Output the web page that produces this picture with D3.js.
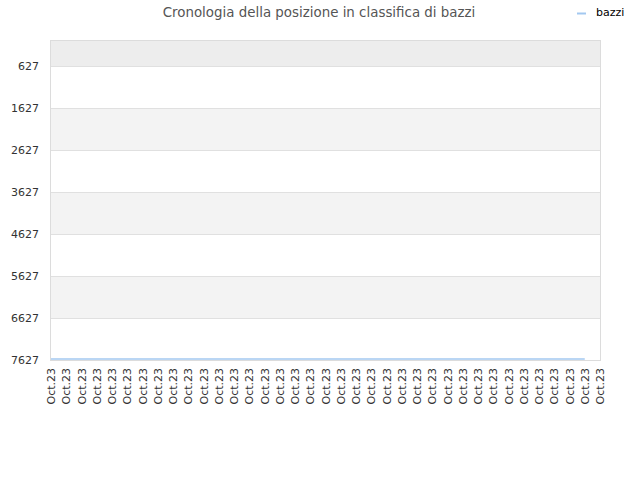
<!DOCTYPE html>
<html lang="it">
	<head>
		<meta charset="utf-8">
		<title>Cronologia della posizione in classifica di bazzi</title>
		<script type="text/javascript" src="https://cdn.jsdelivr.net/npm/d3@7"></script>
		<style type="text/css">
			body { margin: 0; background: #fff; }
			text { font-family: "DejaVu Sans", sans-serif; }
		</style>
	</head>
	<body>
		<script type="text/javascript">

			// Data
			var seriesName = "bazzi";
			var xLabels = ["Oct.23","Oct.23","Oct.23","Oct.23","Oct.23","Oct.23","Oct.23","Oct.23","Oct.23","Oct.23",
			               "Oct.23","Oct.23","Oct.23","Oct.23","Oct.23","Oct.23","Oct.23","Oct.23","Oct.23","Oct.23",
			               "Oct.23","Oct.23","Oct.23","Oct.23","Oct.23","Oct.23","Oct.23","Oct.23","Oct.23","Oct.23",
			               "Oct.23","Oct.23","Oct.23","Oct.23","Oct.23","Oct.23","Oct.23"];
			var positions = [7627, 7627, 7627, 7627, 7627, 7627, 7627, 7627, 7627, 7627,
			                 7627, 7627, 7627, 7627, 7627, 7627, 7627, 7627, 7627, 7627,
			                 7627, 7627, 7627, 7627, 7627, 7627, 7627, 7627, 7627, 7627,
			                 7627, 7627, 7627, 7627, 7627, 7627];
			var yTicks = [627, 1627, 2627, 3627, 4627, 5627, 6627, 7627];

			//Width and height
			var w = 640;
			var h = 480;
			var plotLeft = 51, plotRight = 600, plotTop = 40, plotBottom = 360;

			var svg = d3.select("body")
						.append("svg")
						.attr("width", w)
						.attr("height", h);

			var xScale = d3.scalePoint()
							.domain(d3.range(xLabels.length))
							.range([plotLeft, plotRight]);

			var yScale = d3.scaleLinear()
							.domain([1, 7627])
							.range([plotTop, plotBottom]);

			//Bands between ticks
			var bandEdges = [1].concat(yTicks);
			svg.selectAll("rect.band")
			   .data(d3.range(bandEdges.length - 1))
			   .enter()
			   .append("rect")
			   .attr("class", "band")
			   .attr("x", plotLeft)
			   .attr("width", plotRight - plotLeft)
			   .attr("y", function(i) { return yScale(bandEdges[i]); })
			   .attr("height", function(i) { return yScale(bandEdges[i + 1]) - yScale(bandEdges[i]); })
			   .attr("fill", function(i) {
			   		if (i == 0) return "#ededed";
			   		return i % 2 == 0 ? "#f3f3f3" : "#ffffff";
			   });

			//Grid lines
			svg.selectAll("line.grid")
			   .data(yTicks)
			   .enter()
			   .append("line")
			   .attr("class", "grid")
			   .attr("x1", plotLeft)
			   .attr("x2", plotRight)
			   .attr("y1", function(d) { return Math.round(yScale(d)) + 0.5; })
			   .attr("y2", function(d) { return Math.round(yScale(d)) + 0.5; })
			   .attr("stroke", "#e0e0e0");

			//Border
			svg.append("rect")
			   .attr("x", plotLeft - 0.5)
			   .attr("y", plotTop + 0.5)
			   .attr("width", plotRight - plotLeft + 1)
			   .attr("height", plotBottom - plotTop)
			   .attr("fill", "none")
			   .attr("stroke", "#dcdcdc");

			//Y labels
			svg.selectAll("text.ylab")
			   .data(yTicks)
			   .enter()
			   .append("text")
			   .attr("class", "ylab")
			   .text(function(d) { return d; })
			   .attr("text-anchor", "end")
			   .attr("x", 39)
			   .attr("y", function(d) { return yScale(d) + 4; })
			   .attr("font-size", "11px")
			   .attr("fill", "#333");

			//X labels
			svg.selectAll("text.xlab")
			   .data(xLabels)
			   .enter()
			   .append("text")
			   .attr("class", "xlab")
			   .text(function(d) { return d; })
			   .attr("text-anchor", "end")
			   .attr("transform", function(d, i) {
			   		return "translate(" + (xScale(i) + 4) + "," + (plotBottom + 8) + ") rotate(-90)";
			   })
			   .attr("font-size", "11px")
			   .attr("fill", "#333");

			//Line
			var line = d3.line()
						 .x(function(d, i) { return xScale(i); })
						 .y(function(d) { return yScale(d) - 1; });

			svg.append("path")
			   .datum(positions)
			   .attr("d", line)
			   .attr("fill", "none")
			   .attr("stroke", "#a3c8f0")
			   .attr("stroke-width", 1.5);

			//Title
			svg.append("text")
			   .text("Cronologia della posizione in classifica di bazzi")
			   .attr("text-anchor", "middle")
			   .attr("x", 319)
			   .attr("y", 17)
			   .attr("font-size", "13.4px")
			   .attr("fill", "#555");

			//Legend
			svg.append("line")
			   .attr("x1", 577)
			   .attr("x2", 586)
			   .attr("y1", 13.5)
			   .attr("y2", 13.5)
			   .attr("stroke", "#a3c8f0")
			   .attr("stroke-width", 2);

			svg.append("text")
			   .text(seriesName)
			   .attr("x", 596)
			   .attr("y", 16)
			   .attr("font-size", "11px")
			   .attr("fill", "#000");

		</script>
	</body>
</html>
